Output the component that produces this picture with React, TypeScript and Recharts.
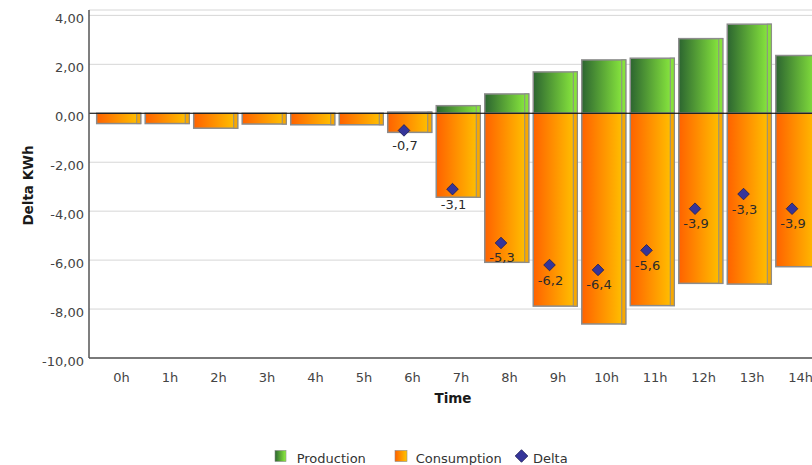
import React from 'react';
import {
  ComposedChart,
  Bar,
  Line,
  XAxis,
  YAxis,
  CartesianGrid,
  ReferenceLine,
  Legend,
  LabelList,
} from 'recharts';

// Hourly energy balance (kWh)
const hours = ['0h', '1h', '2h', '3h', '4h', '5h', '6h', '7h', '8h', '9h', '10h', '11h', '12h', '13h', '14h'];
const production = [0, 0, 0, 0, 0, 0, 0.05, 0.31, 0.79, 1.69, 2.18, 2.25, 3.05, 3.64, 2.36];
const consumption = [-0.42, -0.42, -0.61, -0.44, -0.47, -0.47, -0.78, -3.43, -6.09, -7.88, -8.61, -7.86, -6.95, -6.98, -6.27];
const delta: (number | null)[] = [null, null, null, null, null, null, -0.7, -3.1, -5.3, -6.2, -6.4, -5.6, -3.9, -3.3, -3.9];
const yTicks = [-10, -8, -6, -4, -2, 0, 2, 4];

const data = hours.map((hour, i) => ({
  hour,
  production: production[i],
  consumption: consumption[i],
  delta: delta[i],
}));

const FONT = 'DejaVu Sans';
const fmt2 = (v: number) => v.toFixed(2).replace('.', ',');
const fmt1 = (v: number) => v.toFixed(1).replace('.', ',');

const GradientBar = (p: any) => {
  const { x, y, width, height, grad, strip } = p;
  if (x == null || y == null || !height) return <g />;
  const top = height < 0 ? y + height : y;
  const h = Math.abs(height);
  const left = x - 1;
  return (
    <g>
      <rect x={left} y={top} width={width} height={h} fill={`url(#${grad})`} stroke="#8c8c8c" strokeWidth={1.5} />
      <rect x={left + width - 4} y={top} width={4} height={h} fill={strip} stroke="#8c8c8c" strokeWidth={1} />
    </g>
  );
};

const diamondPath = (x: number, y: number, r: number) =>
  `M${x},${y - r} L${x + r},${y} L${x},${y + r} L${x - r},${y} Z`;

const renderDiamond = (p: any) => {
  const { cx, cy, index, value } = p;
  if (cx == null || cy == null || value == null) return <g key={`dm-${index}`} />;
  return (
    <path
      key={`dm-${index}`}
      d={diamondPath(cx - 7, cy, 5.8)}
      fill="#35359a"
      stroke="#1c1c55"
      strokeWidth={0.8}
    />
  );
};

const renderDeltaLabel = (p: any) => {
  const { x, y, value, index } = p;
  if (value == null || x == null || y == null) return null;
  return (
    <text key={`dl-${index}`} x={x - 6} y={y + 19.5} textAnchor="middle" fontSize={13} fontFamily={FONT} fill="#2b2b2b">
      {fmt1(Number(value))}
    </text>
  );
};

const YTick = (p: any) => {
  const { x, y, payload } = p;
  return (
    <text x={x} y={y + 7.8} textAnchor="end" fontSize={13} fontFamily={FONT} fill="#444">
      {fmt2(payload.value)}
    </text>
  );
};

const XTick = (p: any) => {
  const { x, y, payload } = p;
  return (
    <text x={x + 1.5} y={y + 9.2} textAnchor="middle" fontSize={13} fontFamily={FONT} fill="#444">
      {payload.value}
    </text>
  );
};

const renderYLabel = (p: any) => {
  const vb = p.viewBox || {};
  const cx = (vb.x ?? 0) + 25;
  const cy = (vb.y ?? 0) + (vb.height ?? 0) / 2 + 1.5;
  return (
    <text
      x={cx}
      y={cy}
      transform={`rotate(-90 ${cx} ${cy})`}
      textAnchor="middle"
      fontSize={13.5}
      fontWeight="bold"
      fontFamily={FONT}
      fill="#1a1a1a"
    >
      Delta KWh
    </text>
  );
};

const renderXLabel = (p: any) => {
  const vb = p.viewBox || {};
  const cx = (vb.x ?? 0) + (vb.width ?? 0) / 2 - 6.5;
  const cy = (vb.y ?? 0) + 45.3;
  return (
    <text x={cx} y={cy} textAnchor="middle" fontSize={13.5} fontWeight="bold" fontFamily={FONT} fill="#1a1a1a">
      Time
    </text>
  );
};

const renderLegend = () => (
  <svg width={838} height={24} style={{ display: 'block' }}>
    <defs>
      <linearGradient id="lgProd" x1="0" y1="0" x2="1" y2="0">
        <stop offset="0" stopColor="#2c6530" />
        <stop offset="1" stopColor="#8ef03e" />
      </linearGradient>
      <linearGradient id="lgCons" x1="0" y1="0" x2="1" y2="0">
        <stop offset="0" stopColor="#ff6200" />
        <stop offset="1" stopColor="#ffc600" />
      </linearGradient>
    </defs>
    <rect x={267} y={9.5} width={11} height={11} fill="url(#lgProd)" stroke="#8c8c8c" strokeWidth={0.6} />
    <text x={288.7} y={21.5} fontSize={13} fontFamily={FONT} fill="#333">Production</text>
    <rect x={387} y={9.5} width={12} height={11} fill="url(#lgCons)" stroke="#8c8c8c" strokeWidth={0.6} />
    <text x={407.7} y={21.5} fontSize={13} fontFamily={FONT} fill="#333">Consumption</text>
    <path d={diamondPath(513.5, 15, 6.3)} fill="#35359a" stroke="#1c1c55" strokeWidth={0.8} />
    <text x={525} y={21.5} fontSize={13} fontFamily={FONT} fill="#333">Delta</text>
  </svg>
);

export default function App() {
  return (
    <div
      style={{
        position: 'fixed',
        left: 8,
        top: 8,
        width: 804,
        height: 457,
        overflow: 'hidden',
        fontFamily: FONT,
        background: '#fff',
      }}
    >
      <ComposedChart
        width={838}
        height={457}
        data={data}
        stackOffset="sign"
        margin={{ top: 2, right: 16, left: 0, bottom: 0 }}
        barSize={44}
      >
        <defs>
          <linearGradient id="gradProd" x1="0" y1="0" x2="1" y2="0">
            <stop offset="0" stopColor="#2c6530" />
            <stop offset="1" stopColor="#8ef03e" />
          </linearGradient>
          <linearGradient id="gradCons" x1="0" y1="0" x2="1" y2="0">
            <stop offset="0" stopColor="#ff6200" />
            <stop offset="1" stopColor="#ffc600" />
          </linearGradient>
        </defs>
        <CartesianGrid vertical={false} stroke="#d6d6d6" strokeWidth={1} />
        <XAxis
          dataKey="hour"
          height={83}
          interval={0}
          padding={{ left: 6.7, right: 6.7 }}
          tickSize={0}
          tickMargin={14.5}
          tickLine={false}
          axisLine={{ stroke: '#555', strokeWidth: 1.5 }}
          tick={<XTick />}
          label={renderXLabel}
        />
        <YAxis
          type="number"
          domain={[-10, 4.22]}
          ticks={yTicks}
          interval={0}
          width={81}
          tickSize={0}
          tickMargin={5}
          tickLine={false}
          allowDataOverflow
          axisLine={{ stroke: '#555', strokeWidth: 1.5 }}
          tick={<YTick />}
          label={renderYLabel}
        />
        <Bar
          dataKey="production"
          name="Production"
          stackId="energy"
          isAnimationActive={false}
          shape={(p: any) => <GradientBar {...p} grad="gradProd" strip="#86e23a" />}
        />
        <Bar
          dataKey="consumption"
          name="Consumption"
          stackId="energy"
          isAnimationActive={false}
          shape={(p: any) => <GradientBar {...p} grad="gradCons" strip="#f8a800" />}
        />
        <ReferenceLine y={0} stroke="#000" strokeWidth={1.2} />
        <Line
          dataKey="delta"
          name="Delta"
          stroke="none"
          isAnimationActive={false}
          dot={renderDiamond}
          activeDot={false}
          connectNulls={false}
        >
          <LabelList dataKey="delta" content={renderDeltaLabel} />
        </Line>
        <Legend
          verticalAlign="bottom"
          align="left"
          content={renderLegend}
          wrapperStyle={{ left: 0, bottom: 0, width: 838, height: 24 }}
        />
      </ComposedChart>
    </div>
  );
}
